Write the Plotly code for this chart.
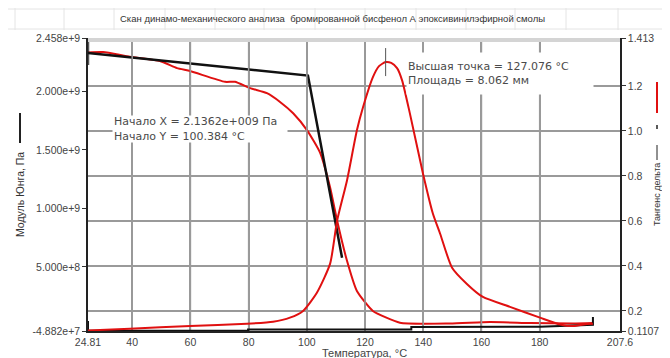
import plotly.graph_objects as go

# ---------------- data ----------------
title_text = "Скан динамо-механического анализа  бромированной бисфенол А эпоксивинилэфирной смолы"

# tan delta (right axis)
tan_temp = [24.81, 39.2, 59.9, 79.4, 88.4, 94.2, 98.7, 103.5, 108.0, 110.4, 113.8, 117.2,
            119.3, 122.7, 124.8, 127.08, 129.0, 131.0, 132.7, 135.4, 139.9, 143.3, 145.8,
            149.9, 155.0, 160.5, 169.8, 180.1, 187.0, 191.5, 196.3, 198.3]
tan_val = [0.113, 0.121, 0.133, 0.143, 0.152, 0.170, 0.200, 0.282, 0.410, 0.601, 0.780, 1.003,
           1.105, 1.239, 1.288, 1.306, 1.302, 1.279, 1.226, 1.078, 0.811, 0.633, 0.543,
           0.392, 0.320, 0.262, 0.218, 0.170, 0.140, 0.133, 0.142, 0.143]

# Young's modulus (left axis), Pa
mod_temp = [24.81, 30.0, 39.2, 49.5, 55.4, 59.9, 71.9, 75.3, 80.5, 86.3, 90.8, 95.3, 100.1,
            104.5, 108.0, 110.4, 113.8, 117.2, 122.7, 132.0, 149.2, 162.9, 176.7, 191.5, 198.3]
mod_val = [2.335e9, 2.338e9, 2.297e9, 2.261e9, 2.200e9, 2.175e9, 2.083e9, 2.083e9, 2.029e9,
           1.986e9, 1.911e9, 1.814e9, 1.668e9, 1.479e9, 1.179e9, 0.896e9, 0.552e9, 0.294e9,
           0.123e9, 0.022e9, 0.016e9, 0.028e9, 0.020e9, 0.016e9, 0.020e9]

# onset construction (left axis)
onset_temp = [24.81, 100.384, 112.1]
onset_val = [2.329e9, 2.1362e9, 0.578e9]

# integration baseline for tan delta (right axis)
base_temp = [24.81, 24.81, 79.8, 79.8, 135.9, 135.9, 180.1, 198.3, 198.3]
base_val = [0.155, 0.112, 0.112, 0.117, 0.117, 0.129, 0.130, 0.138, 0.173]

# peak
peak_temp = [127.076]
peak_val = [1.306]

# axes
x_range = [24.81, 207.6]
x_ticks = [24.81, 40, 60, 80, 100, 120, 140, 160, 180, 207.6]
x_ticktext = ["24.81", "40", "60", "80", "100", "120", "140", "160", "180", "207.6"]
y_range = [-4.882e7, 2.458e9]
y_ticks = [-4.882e7, 5e8, 1e9, 1.5e9, 2e9, 2.458e9]
y_ticktext = ["-4.882e+7", "5.000e+8", "1.000e+9", "1.500e+9", "2.000e+9", "2.458e+9"]
y2_range = [0.1107, 1.413]
y2_ticks = [0.1107, 0.2, 0.4, 0.6, 0.8, 1.0, 1.2, 1.413]
y2_ticktext = ["0.1107", "0.2", "0.4", "0.6", "0.8", "1.0", "1.2", "1.413"]

# ---------------- geometry (page body has an 8px margin) ----------------
W, H = 662, 350
ML, MR, MT, MB = 80, 50, 30, 27
PL, PT = 88, 38          # plot-area left/top in screen pixels
PW, PH = W - ML - MR, H - MT - MB


def px(x):
    return (x - PL) / PW


def py(y):
    return (PT + PH - y) / PH


RED = "#e01010"
BLACK = "#111111"
GRID = "#9a9a9a"

fig = go.Figure()

# vertical grid lines at the inner temperature ticks (drawn first, beneath the curves)
grid_x, grid_y = [], []
for xv in x_ticks[1:-1]:
    grid_x += [xv, xv, None]
    grid_y += [y2_range[0], y2_range[1], None]
fig.add_trace(go.Scatter(x=grid_x, y=grid_y, yaxis="y2", mode="lines",
                         line=dict(color=GRID, width=1.5), showlegend=False,
                         hoverinfo="skip", cliponaxis=True))

fig.add_trace(go.Scatter(x=base_temp, y=base_val, yaxis="y2", mode="lines",
                         line=dict(color=BLACK, width=2), showlegend=False, hoverinfo="skip"))
fig.add_trace(go.Scatter(x=tan_temp, y=tan_val, yaxis="y2", mode="lines",
                         line=dict(color=RED, width=2, shape="spline", smoothing=0.6),
                         showlegend=False))
fig.add_trace(go.Scatter(x=mod_temp, y=mod_val, yaxis="y", mode="lines",
                         line=dict(color=RED, width=2, shape="spline", smoothing=0.5),
                         showlegend=False))
fig.add_trace(go.Scatter(x=onset_temp, y=onset_val, yaxis="y", mode="lines+markers",
                         line=dict(color=BLACK, width=2.5),
                         marker=dict(symbol="line-ns", size=[17, 0, 0],
                                     line=dict(color=BLACK, width=2.5)),
                         showlegend=False))
fig.add_trace(go.Scatter(x=peak_temp, y=peak_val, yaxis="y2", mode="markers",
                         marker=dict(symbol="line-ns", size=20,
                                     line=dict(color="#555555", width=1)),
                         showlegend=False))

tickfont = dict(family="Liberation Sans, Arial, sans-serif", size=10.5, color="#444444")

fig.update_layout(
    width=W, height=H, autosize=False,
    margin=dict(l=ML, r=MR, t=MT, b=MB, pad=0),
    paper_bgcolor="white", plot_bgcolor="rgba(0,0,0,0)",
    xaxis=dict(range=x_range, tickmode="array", tickvals=x_ticks, ticktext=x_ticktext,
               showgrid=True, gridcolor=GRID, gridwidth=1.5, automargin=False,
               showline=True, linecolor="#222222", linewidth=1.5,
               ticks="outside", ticklen=1, tickcolor="rgba(0,0,0,0)",
               tickfont=tickfont, zeroline=False),
    yaxis=dict(range=y_range, tickmode="array", tickvals=y_ticks, ticktext=y_ticktext,
               showgrid=False, showline=True, linecolor="#222222", linewidth=1.5,
               ticks="outside", ticklen=4, tickcolor="#333333", automargin=False,
               tickfont=tickfont, zeroline=False),
    yaxis2=dict(range=y2_range, tickmode="array", tickvals=y2_ticks, ticktext=y2_ticktext,
                overlaying="y", side="right", automargin=False,
                showgrid=True, gridcolor=GRID, gridwidth=1.5,
                showline=True, linecolor="#222222", linewidth=1.5,
                ticks="outside", ticklen=4, tickcolor="#333333",
                tickfont=tickfont, zeroline=False),
)

shapes = []
# faint sheet grid behind the title
for xv in [15, 64, 114, 165, 215, 264, 315, 365, 416, 466, 515, 566, 618]:
    shapes.append(dict(type="line", xref="paper", yref="paper", x0=px(xv), x1=px(xv),
                       y0=py(8), y1=py(30), line=dict(color="#e4e4e4", width=1), layer="below"))
for yv in [9, 29]:
    shapes.append(dict(type="line", xref="paper", yref="paper", x0=px(8), x1=px(670),
                       y0=py(yv), y1=py(yv), line=dict(color="#e4e4e4", width=1), layer="below"))
# light top border band
shapes.append(dict(type="line", xref="paper", yref="paper", x0=0, x1=1, y0=py(40), y1=py(40),
                   line=dict(color="#d4d4d4", width=4)))
# axis-title legend glyphs
shapes.append(dict(type="line", xref="paper", yref="paper", x0=px(20), x1=px(20),
                   y0=py(113), y1=py(143), line=dict(color="#222222", width=2)))
shapes.append(dict(type="line", xref="paper", yref="paper", x0=px(657), x1=px(657),
                   y0=py(82), y1=py(113), line=dict(color=RED, width=2)))
shapes.append(dict(type="line", xref="paper", yref="paper", x0=px(657), x1=px(657),
                   y0=py(125), y1=py(129), line=dict(color="#222222", width=1.5)))
shapes.append(dict(type="line", xref="paper", yref="paper", x0=px(657), x1=px(657),
                   y0=py(145), y1=py(160), line=dict(color="#222222", width=1)))
fig.update_layout(shapes=shapes)

annfont = dict(family="DejaVu Sans, Verdana, sans-serif", size=11, color="#4a4a4a")
lab = dict(family="Liberation Sans, Arial, sans-serif", color="#333333")
annotations = [
    dict(text=title_text, xref="paper", yref="paper", x=px(332), y=py(19),
         xanchor="center", yanchor="middle", showarrow=False, font=dict(lab, size=9.5)),
    dict(text="Модуль Юнга, Па", xref="paper", yref="paper", x=px(20), y=py(195),
         xanchor="center", yanchor="middle", textangle=-90, showarrow=False,
         font=dict(lab, size=10.5)),
    dict(text="Тангенс дельта", xref="paper", yref="paper", x=px(657), y=py(195),
         xanchor="center", yanchor="middle", textangle=-90, showarrow=False,
         font=dict(lab, size=9)),
    dict(text="Температура, °C", xref="paper", yref="paper", x=px(364), y=py(353),
         xanchor="center", yanchor="middle", showarrow=False,
         font=dict(family="Liberation Sans, Arial, sans-serif", size=11, color="#444444")),
    dict(text="Начало X = 2.1362e+009 Па<br>Начало Y = 100.384 °C",
         xref="paper", yref="paper", x=px(112), y=py(115), xanchor="left", yanchor="top",
         align="left", width=172, height=24, borderpad=1, bgcolor="white",
         showarrow=False, font=annfont),
    dict(text="Высшая точка = 127.076 °C<br>Площадь = 8.062 мм",
         xref="paper", yref="paper", x=px(406), y=py(52), xanchor="left", yanchor="top",
         align="left", width=184, height=39, borderpad=1, bgcolor="white",
         showarrow=False, font=annfont),
]
fig.update_layout(annotations=annotations)

fig.write_html("out.html")
